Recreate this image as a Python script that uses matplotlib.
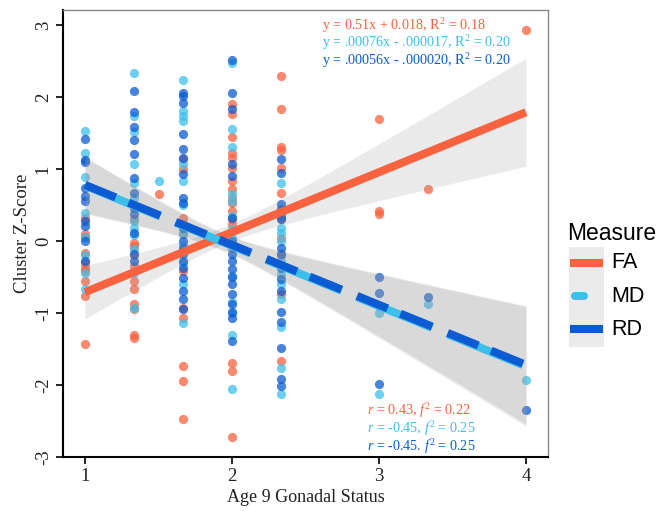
import numpy as np
import matplotlib
matplotlib.use("Agg")
import matplotlib.pyplot as plt
from matplotlib.lines import Line2D

plt.rcParams['font.family'] = ['Liberation Serif', 'DejaVu Serif']
plt.rcParams['mathtext.fontset'] = 'custom'
plt.rcParams['mathtext.rm'] = 'Liberation Serif'
plt.rcParams['mathtext.it'] = 'Liberation Serif:italic'
plt.rcParams['lines.scale_dashes'] = False
plt.rcParams['axes.unicode_minus'] = False

# gonadal status at age 9 -> cluster z-scores
fa = {
    1.0: [0.32, 0.10, -0.17, -0.38, -0.42, -0.56, -0.77, -1.43, 0.05, -0.30],
    1.333: [0.31, -0.03, -0.07, -0.35, -0.56, -0.66, -0.88, -0.95, -1.30, -1.35, -0.20],
    1.5: [0.65],
    1.667: [1.14, 1.00, 0.32, 0.24, -0.42, -0.93, -1.07, -1.74, -1.95, -2.47, 0.10],
    2.0: [1.91, 1.77, 1.44, 1.23, 1.16, 1.02, 0.84, 0.73, 0.53, 0.42, 0.24, -0.10,
          -1.70, -1.81, -2.72, 0.60, 0.30],
    2.333: [2.30, 1.84, 1.30, 1.26, 1.02, 0.67, 0.04, -0.74, -1.66, 0.30, -0.20],
    3.0: [1.70, 0.42, 0.37],
    3.333: [0.72],
    4.0: [2.93],
}
md = {
    1.0: [1.53, 1.23, 0.89, 0.39, 0.05, -0.20, -0.67, -0.45],
    1.333: [2.33, 1.74, 1.52, 1.07, 0.81, 0.60, 0.28, 0.18, 0.08, -0.11, -0.45, -0.93],
    1.5: [0.84],
    1.667: [2.24, 1.81, 1.74, 1.67, 1.07, 0.84, 0.50, 0.10, -0.05, -0.30, -0.60, -1.14],
    2.0: [2.47, 1.56, 1.30, 0.66, 0.56, 0.35, 0.17, 0.04, -0.10, -0.49, -0.84, -1.00,
          -1.30, -2.05],
    2.333: [0.80, 0.18, 0.11, 0.00, -0.28, -0.46, -0.60, -0.81, -1.20, -1.77, -2.12],
    3.0: [-0.90, -1.00, -2.12],
    3.333: [-0.88],
    4.0: [-1.93],
}
rd = {
    1.0: [1.42, 1.12, 1.10, 0.74, 0.63, 0.56, 0.28, 0.21, 0.00, -0.28],
    1.333: [2.08, 1.79, 1.58, 1.41, 1.21, 0.88, 0.67, 0.46, 0.38, 0.11, -0.18, -0.28],
    1.667: [2.06, 2.02, 1.92, 1.49, 1.28, 1.16, 0.93, 0.60, 0.53, 0.18, 0.00, -0.10,
            -0.18, -0.28, -0.38, -0.52, -0.70, -0.80, -0.95],
    2.0: [2.51, 2.06, 1.84, 1.07, 0.91, 0.32, 0.00, -0.18, -0.28, -0.39, -0.50, -0.60,
          -0.73, -0.88, -0.98, -1.07, -1.39],
    2.333: [1.14, 0.95, 0.52, 0.45, 0.35, 0.31, -0.10, -0.18, -0.38, -0.53, -0.70,
            -0.98, -1.12, -1.49, -1.92, -2.01],
    3.0: [-0.50, -0.72, -1.99],
    3.333: [-0.78],
    4.0: [-2.35],
}

measures = ['FA', 'MD', 'RD']
colors = ['#F9623F', '#3DBFEB', '#0B5BD3']
data = [fa, md, rd]

fit_ends = [(-0.71, 1.79), (0.77, -1.74), (0.78, -1.72)]
ci_ends = [(0.37, 0.75), (0.39, 0.83), (0.39, 0.82)]
ci_min = [0.12, 0.12, 0.12]

top_lab = ['y = 0.51x + 0.018, R$^2$ = 0.18',
           'y = .00076x - .000017, R$^2$ = 0.20',
           'y = .00056x - .000020, R$^2$ = 0.20']
bot_lab = ['$r$ = 0.43, $f^2$ = 0.22',
           '$r$ = -0.45, $f^2$ = 0.25',
           '$r$ = -0.45. $f^2$ = 0.25']

fig = plt.figure(figsize=(6.71, 5.11), dpi=100)
W, H = 671, 511
ax = fig.add_axes([63 / W, (H - 457) / H, (548 - 63) / W, (457 - 10) / H])

for d, c in zip(data, colors):
    xs = np.concatenate([[k] * len(v) for k, v in d.items()])
    ys = np.concatenate([v for v in d.values()])
    ax.scatter(xs, ys, s=44, color=c, alpha=0.75, linewidths=0, zorder=2)

xx = np.linspace(1, 4, 200)
dash_styles = [None, (58.5, 12), (23.8, 10, 24.7, 12)]
for i, c in enumerate(colors):
    y0, y1 = fit_ends[i]
    yy = y0 + (y1 - y0) * (xx - 1) / 3
    h0, h1 = ci_ends[i]
    a = ci_min[i] ** 2
    # hyperbolic CI: solve for centre and curvature
    r = np.sqrt((h1 ** 2 - a) / (h0 ** 2 - a))
    x0 = (4 + r) / (1 + r)
    b = (h0 ** 2 - a) / (x0 - 1) ** 2
    hw = np.sqrt(a + b * (xx - x0) ** 2)
    ax.fill_between(xx, yy - hw, yy + hw, color='#999999', alpha=0.2, lw=0, zorder=3)
    ln, = ax.plot(xx, yy, color=c, lw=5.8, solid_capstyle='butt', zorder=4)
    if dash_styles[i] is not None:
        ln.set_dashes(dash_styles[i])
        ln.set_dash_capstyle('butt')

for i, c in enumerate(colors):
    ax.text(2.61, 3.0 - 0.245 * i, top_lab[i], color=c, fontsize=10.2,
            ha='left', va='center', zorder=5)
    ax.text(2.92, -2.36 - 0.245 * i, bot_lab[i], color=c, fontsize=10.2,
            ha='left', va='center', zorder=5)

ax.set_xlim(0.85, 4.15)
ax.set_ylim(-3.0, 3.21)
ax.set_xticks([1, 2, 3, 4])
ax.set_yticks([-3, -2, -1, 0, 1, 2, 3])
ax.tick_params(axis='both', length=5, width=1.2, color='black', labelsize=13.5,
               labelcolor='#222222', pad=3)
for lab in ax.get_yticklabels():
    lab.set_rotation(90)
    lab.set_va('center')
for s in ['top', 'right']:
    ax.spines[s].set_color('#888888')
    ax.spines[s].set_linewidth(1)
for s in ['left', 'bottom']:
    ax.spines[s].set_color('black')
    ax.spines[s].set_linewidth(1.5)
ax.set_xlabel('Age 9 Gonadal Status', fontsize=13, color='#222222', labelpad=3)
ax.set_ylabel('Cluster Z-Score', fontsize=13.5, color='#222222', labelpad=3)

# legend
lax = fig.add_axes([560 / W, (H - 350) / H, 111 / W, 130 / H])
lax.set_xlim(0, 111)
lax.set_ylim(130, 0)
lax.axis('off')
lax.text(7, 13, 'Measure', fontsize=16.5, family='Liberation Sans', va='center', ha='left')
lax.add_patch(plt.Rectangle((9, 27), 35, 100, color='#EBEBEB', lw=0))
for i, (m, c) in enumerate(zip(measures, colors)):
    yk = 43 + 33 * i
    if i == 1:
        lax.add_line(Line2D([15, 24], [yk, yk], color=c, lw=5.8, solid_capstyle='round'))
    else:
        lax.add_line(Line2D([10, 43], [yk, yk], color=c, lw=5.8, solid_capstyle='butt'))
    lax.text(51, yk, m, fontsize=15.5, family='Liberation Sans', va='center', ha='left')

fig.savefig('out.png', dpi=100)
